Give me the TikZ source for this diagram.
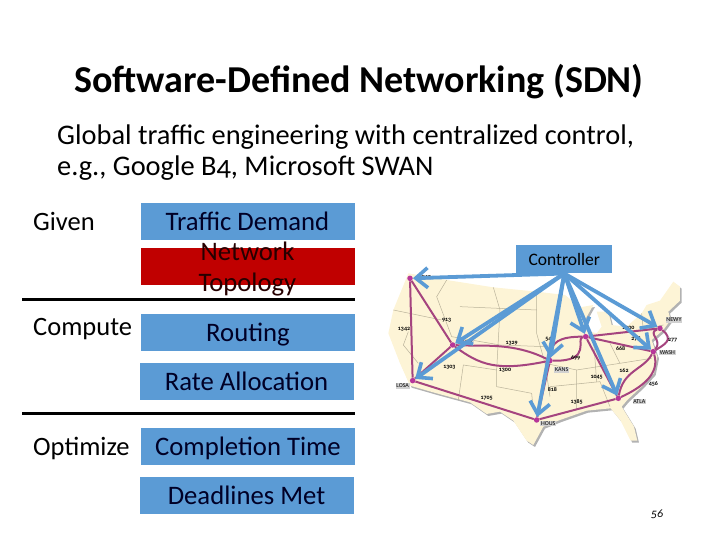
\documentclass[tikz,border=0pt]{standalone}
\usepackage{fontspec}
\setmainfont[Numbers=OldStyle]{Carlito}
\usetikzlibrary{arrows.meta}
\definecolor{boxblue}{HTML}{5B9BD5}
\definecolor{boxred}{HTML}{C00000}
\definecolor{linkpink}{HTML}{A5447F}
\definecolor{landcream}{HTML}{FDF4D6}
\definecolor{statetan}{HTML}{B9B29A}
\newcommand{\usoutline}{(85,130) -- (200,150) -- (340,172) -- (470,185) -- (555,195) -- (600,232) -- (640,225) -- (612,275) -- (615,300) -- (650,310) -- (665,290) -- (650,245) -- (685,245) -- (695,285) -- (740,290) -- (785,250) -- (800,225) -- (840,212) -- (880,155) -- (900,170) -- (900,212) -- (865,245) -- (872,270) -- (850,300) -- (815,330) -- (832,380) -- (822,430) -- (785,470) -- (742,510) -- (725,530) -- (762,590) -- (772,632) -- (752,632) -- (722,572) -- (692,535) -- (620,542) -- (540,570) -- (490,590) -- (460,645) -- (440,632) -- (400,572) -- (360,545) -- (320,552) -- (270,517) -- (170,490) -- (90,467) -- (60,400) -- (25,310) -- (40,240) -- cycle}
\tikzset{
  taskbox/.style={fill=boxblue,minimum width=214pt,minimum height=37pt,inner sep=0pt,text height=23pt,text depth=6pt,font=\fontsize{26.7}{31}\selectfont,text=black!85!blue},
  givenlabel/.style={anchor=base west,inner sep=0pt,font=\fontsize{26.5}{30}\selectfont},
  siterule/.style={line width=3pt},
  linkline/.style={draw=linkpink,line width=2pt},
  sitedot/.style={circle,fill=linkpink!80!magenta,inner sep=0pt,minimum size=5.5pt},
  ctrlarrow/.style={draw=boxblue,line width=3.8pt,-{Straight Barb[length=12pt,width=20pt,line width=3.6pt]}},
  dist/.style={font=\fontsize{6}{7}\selectfont\bfseries,inner sep=0pt},
  sitetag/.style={fill=black!18,font=\fontsize{6}{7}\selectfont,inner sep=0.7pt}
}
\begin{document}
\begin{tikzpicture}[x=1pt,y=-1pt]
\useasboundingbox (0,0) rectangle (720,540);
\node[anchor=center,inner sep=0pt,font=\fontsize{38}{42}\selectfont\bfseries] (title) at (359,82) {Software-Defined Networking (SDN)};
\node[anchor=north west,inner sep=0pt,align=left,font=\fontsize{28.4}{31}\selectfont] (intro) at (57,125) {Global traffic engineering with centralized control,\\e.g., Google B4, Microsoft SWAN};

\node[givenlabel] (given) at (33,230) {Given};
\node[givenlabel] (compute) at (33,335) {Compute};
\node[givenlabel] (optimize) at (33,455) {Optimize};
\node[taskbox] (traffic) at (247.5,221.5) {Traffic Demand};
\node[taskbox,fill=boxred] (topology) at (247.5,266.5) {};
\node[inner sep=0pt,align=center,yshift=-3pt,font=\fontsize{26.7}{31}\selectfont,text=black!85!red] (topologytext) at (topology) {Network\\Topology};
\node[taskbox] (routing) at (248,332.5) {Routing};
\node[taskbox] (rate) at (246.5,381.5) {Rate Allocation};
\node[taskbox] (completion) at (248,446.5) {Completion Time};
\node[taskbox] (deadlines) at (246.5,495.5) {Deadlines Met};
\draw[siterule] (22,299) -- (355,299);
\draw[siterule] (22,413) -- (355,413);

\begin{scope}[shift={(380pt,-230pt)},x=0.3333pt,y=-0.3333pt]
\fill[black!30,shift={(5,6)}] \usoutline;
\fill[landcream] \usoutline;
\draw[statetan,line width=0.5pt] (200,150) -- (170,200) -- (215,320) (40,240) -- (185,270) (85,305) -- (70,345) -- (115,400) (215,320) -- (360,345) (240,230) -- (470,240) (340,172) -- (360,240) -- (350,420) -- (250,405) -- (235,510) (470,185) -- (470,310) -- (495,400) -- (510,500) (360,345) -- (495,350) (350,420) -- (350,470) -- (455,490) -- (460,540) (495,400) -- (590,420) -- (590,540) (510,470) -- (660,455) -- (690,530) (590,420) -- (720,400) -- (815,385) (640,320) -- (650,455) (690,340) -- (720,400) (785,250) -- (790,300) -- (850,285);

\node[sitedot] (seat) at (90,145) {};
\node[sitedot] (salt) at (218,345) {};
\node[sitedot] (losa) at (98,452) {};
\node[sitedot] (kans) at (510,392) {};
\node[sitedot] (chic) at (617,320) {};
\node[sitedot] (newy) at (840,295) {};
\node[sitedot] (wash) at (820,365) {};
\node[sitedot] (atla) at (715,505) {};
\node[sitedot] (hous) at (470,570) {};

\draw[linkline] (seat) -- (losa);
\draw[linkline] (seat) -- (salt);
\draw[linkline] (salt) -- (losa);
\draw[linkline] (losa) -- (hous);
\draw[linkline] (hous) -- (atla);
\draw[linkline] (hous) -- (kans);
\draw[linkline] (chic) -- (newy);
\draw[linkline] (chic) -- (wash);
\draw[linkline] (chic) -- (atla);
\draw[linkline] (salt) .. controls (300,350) and (400,335) .. (kans);
\draw[linkline] (salt) .. controls (300,405) and (350,425) .. (kans);
\draw[linkline] (kans) .. controls (640,395) and (585,325) .. (chic);
\draw[linkline] (kans) .. controls (510,335) and (540,320) .. (chic);
\draw[linkline] (newy) .. controls (800,310) and (850,330) .. (wash);
\draw[linkline] (newy) .. controls (885,330) and (850,345) .. (wash);
\draw[linkline] (atla) .. controls (730,420) and (790,420) .. (wash);
\draw[linkline] (atla) .. controls (790,470) and (840,430) .. (wash);

\foreach \px/\py/\txt in {200/270/913,72/297/1342,395/340/1329,208/411/1303,375/421/1300,320/505/1705,517/478/818,590/517/1385,650/442/1045,587/383/699,510/327/543,745/293/1000,768/327/278,878/332/277,722/355/668,732/421/162,820/462/456}
  \node[dist] at (\px,\py) {\txt};
\foreach \px/\py/\txt in {135/142/SEAT,262/338/SALT,68/468/LOSA,545/420/KANS,505/580/HOUS,778/515/ATLA,862/368/WASH,882/270/NEWY}
  \node[sitetag] at (\px,\py) {\txt};

\node[fill=boxblue,minimum width=96pt,minimum height=28pt,inner sep=0pt,font=\fontsize{17.5}{20}\selectfont] (controller) at (553,88) {Controller};
\draw[ctrlarrow] (controller.south) -- (seat);
\draw[ctrlarrow] (controller.south) -- (salt);
\draw[ctrlarrow] (controller.south) -- (losa);
\draw[ctrlarrow] (controller.south) -- (kans);
\draw[ctrlarrow] (controller.south) -- (hous);
\draw[ctrlarrow] (controller.south) -- (chic);
\draw[ctrlarrow] (controller.south) -- (atla);
\draw[ctrlarrow] (controller.south) -- (wash);
\draw[ctrlarrow] (controller.south) -- (newy);
\end{scope}

\node[inner sep=0pt,font=\fontsize{12}{14}\selectfont\itshape] (pagenum) at (657,514) {56};
\end{tikzpicture}
\end{document}
